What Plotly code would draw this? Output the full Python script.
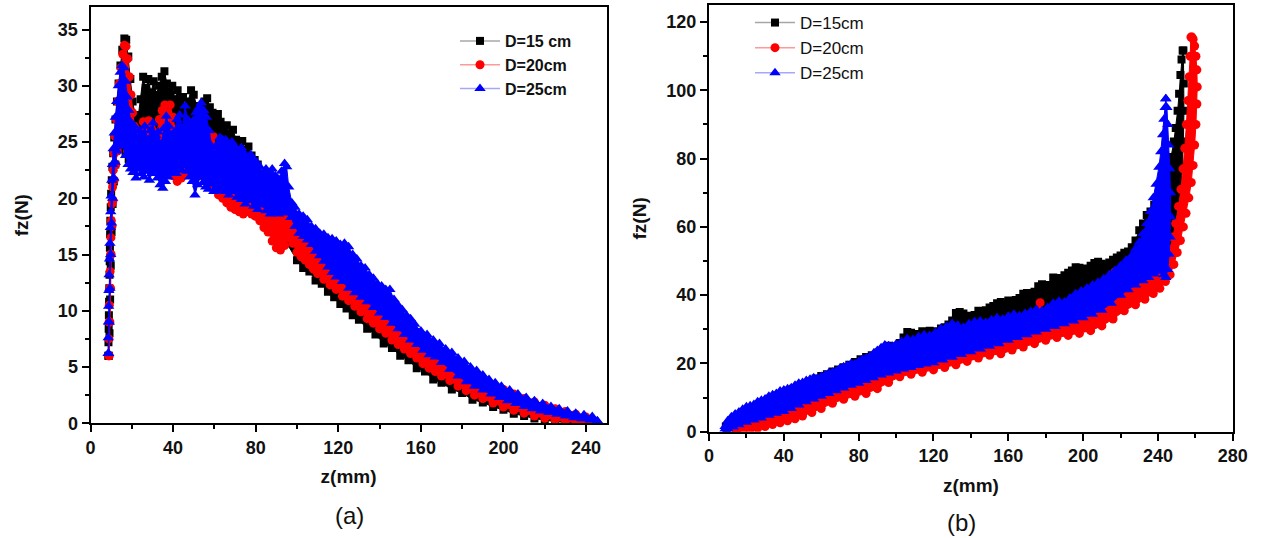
import plotly.graph_objects as go

# ---------------- Panel (a): fz vs z, band outlines ----------------
# D=15 cm
a15_up_z = [8.6, 8.7, 8.8, 8.9, 9.0, 9.1, 9.2, 9.3, 9.4, 9.5,
            9.6, 9.8, 10.0, 10.3, 10.6, 11.0, 11.5, 12.1, 12.8, 13.6,
            14.5, 15.4, 16.4, 17.3, 18.3, 19.3, 20.4, 21.6, 23.0, 24.3,
            25.5, 26.8, 28.0, 29.3, 30.6, 31.9, 33.2, 34.5, 35.8, 37.0,
            38.3, 39.6, 40.9, 42.2, 43.5, 44.8, 46.1, 47.4, 48.7, 50.0,
            51.3, 52.6, 53.9, 55.2, 56.5, 57.8, 59.1, 60.4, 61.7, 63.0,
            64.5, 66.0, 67.5, 69.0, 70.5, 72.0, 73.5, 75.0, 76.5, 78.0,
            79.5, 81.0, 84, 88, 92, 96, 100, 105, 110, 115,
            120, 125, 130, 135, 140, 145, 150, 155, 160, 165,
            170, 175, 180, 185, 190, 195, 200, 205, 210, 215,
            220, 225, 230, 235, 239]
a15_up_f = [6.0, 7.2, 8.4, 9.6, 10.8, 12.0, 13.2, 14.4, 15.6, 16.8,
            18.0, 19.2, 20.4, 21.6, 22.8, 24.0, 25.4, 27.0, 28.6, 30.2,
            31.8, 33.2, 34.2, 34.1, 32.6, 30.6, 28.6, 27.4, 27.1, 28.8,
            30.8, 29.8, 30.6, 29.4, 30.4, 29.2, 30.0, 30.8, 31.3, 30.2,
            29.4, 30.0, 28.8, 29.6, 28.4, 29.0, 27.8, 28.6, 29.6, 29.2,
            28.2, 27.4, 28.0, 28.6, 28.9, 28.1, 27.6, 27.0, 27.5, 26.8,
            26.2, 26.5, 25.7, 26.1, 25.2, 24.8, 25.1, 24.3, 24.6, 23.8,
            23.4, 23.0, 22.0, 20.6, 19.4, 18.2, 16.8, 15.8, 14.8, 13.9,
            12.9, 12.0, 11.1, 10.2, 9.5, 8.7, 8.0, 7.3, 6.5, 5.9,
            5.3, 4.7, 4.1, 3.6, 3.1, 2.7, 2.3, 1.95, 1.6, 1.3,
            1.0, 0.75, 0.55, 0.35, 0.2]
a15_lo_z = [8.9, 9.2, 9.5, 9.8, 10.2, 10.7, 11.3, 12.0, 13.0, 14.2,
            15.5, 17.0, 18.5, 20.0, 22, 26, 30, 35, 40, 45,
            50, 55, 60, 65, 70, 75, 80, 85, 90, 95,
            100, 103, 106, 109, 112, 115, 118, 121, 124, 127,
            130, 134, 138, 142, 146, 150, 154, 158, 162, 166,
            170, 175, 180, 185, 190, 195, 200, 205, 210, 215,
            220, 225, 230, 235, 239]
a15_lo_f = [6.0, 8.0, 11.0, 14.0, 17.0, 19.5, 21.5, 23.0, 24.5, 25.0,
            24.5, 24.0, 23.5, 23.0, 23.0, 23.0, 23.0, 23.0, 23.5, 23.0,
            23.0, 22.5, 21.5, 20.5, 19.5, 18.8, 18.5, 17.5, 16.5, 16.0,
            14.5, 13.8, 13.5, 12.7, 12.4, 11.7, 11.2, 10.6, 10.2, 9.6,
            9.2, 8.4, 7.9, 7.1, 6.7, 6.0, 5.6, 4.9, 4.6, 3.9,
            3.6, 3.0, 2.7, 2.1, 1.85, 1.45, 1.2, 0.85, 0.65, 0.42,
            0.3, 0.15, 0.08, 0.02, 0.0]

# D=20 cm
a20_up_z = [8.8, 8.9, 9.0, 9.1, 9.3, 9.5, 9.7, 9.9, 10.1, 10.4,
            10.7, 11.0, 11.4, 11.9, 12.5, 13.2, 14.0, 14.8, 15.6, 16.4,
            17.2, 18.0, 18.8, 19.6, 20.4, 21.2, 22.0, 23.0, 24.3, 25.6,
            26.9, 28.2, 29.5, 30.8, 32.1, 33.4, 34.7, 36.0, 37.3, 38.6,
            39.9, 41.2, 42.5, 43.8, 45.1, 46.4, 47.7, 49.0, 50.3, 51.6,
            52.9, 54.2, 55.5, 56.8, 58.1, 59.4, 60.7, 62.0, 64, 66,
            68, 70, 72, 74, 76, 78, 80, 82, 84, 86,
            88, 90, 92, 94, 96, 98, 100, 104, 108, 112,
            116, 120, 125, 130, 135, 140, 145, 150, 155, 160,
            165, 170, 175, 180, 185, 190, 195, 200, 205, 210,
            215, 220, 225, 230, 235, 240, 243]
a20_up_f = [6.0, 7.5, 9.0, 10.5, 12.0, 13.5, 15.0, 16.5, 18.0, 19.5,
            21.0, 22.5, 24.0, 25.5, 27.0, 28.6, 30.2, 31.6, 32.8, 33.6,
            33.5, 32.4, 30.8, 29.2, 27.6, 26.4, 25.6, 25.2, 25.6, 26.8,
            26.0, 26.9, 26.2, 25.4, 25.8, 27.0, 27.8, 28.3, 27.6, 28.3,
            27.2, 26.0, 25.2, 24.6, 24.0, 25.0, 24.2, 23.6, 24.4, 23.8,
            23.2, 24.0, 24.5, 25.0, 25.3, 25.5, 24.6, 24.0, 23.6, 23.2,
            22.9, 22.6, 22.0, 21.6, 21.0, 20.7, 20.2, 19.8, 19.4, 19.0,
            18.7, 18.5, 18.2, 18.3, 18.0, 17.8, 17.8, 17.0, 16.2, 15.6,
            14.9, 14.2, 13.2, 12.3, 11.4, 10.6, 9.8, 9.2, 8.4, 7.5,
            6.8, 6.0, 5.3, 4.6, 4.0, 3.5, 3.2, 3.0, 2.6, 2.2,
            1.9, 1.6, 1.3, 1.05, 0.8, 0.55, 0.35]
a20_lo_z = [9.1, 9.4, 9.7, 10.0, 10.4, 10.9, 11.5, 12.2, 13.0, 14.0,
            15.2, 16.5, 18.0, 19.5, 21.0, 23, 26, 30, 34, 38,
            40, 42, 44, 46, 48, 50, 52, 54, 56, 58,
            60, 62, 64, 66, 68, 70, 72, 74, 76, 78,
            80, 82, 84, 86, 88, 90, 92, 94, 96, 98,
            100, 102, 104, 106, 108, 110, 113, 116, 119, 122,
            125, 128, 131, 134, 137, 140, 143, 146, 149, 152,
            155, 158, 161, 164, 167, 170, 174, 178, 182, 186,
            190, 195, 200, 205, 210, 215, 220, 225, 230, 235,
            240, 243]
a20_lo_f = [6.0, 9.0, 12.0, 15.0, 17.5, 19.8, 21.6, 23.0, 24.2, 25.0,
            25.2, 24.8, 24.2, 23.8, 23.4, 23.0, 22.8, 22.8, 22.6, 22.4,
            22.0, 21.5, 21.8, 22.3, 22.5, 22.2, 22.6, 22.0, 21.5, 21.0,
            20.8, 20.3, 20.0, 19.6, 19.2, 19.0, 18.8, 18.6, 18.9, 18.6,
            18.4, 18.0, 17.4, 17.0, 16.2, 15.6, 15.4, 15.8, 16.5, 16.0,
            15.2, 14.8, 14.5, 14.1, 13.7, 13.3, 12.8, 12.3, 11.9, 11.3,
            10.9, 10.4, 9.9, 9.3, 8.9, 8.4, 8.0, 7.4, 7.0, 6.6,
            6.2, 5.8, 5.3, 4.9, 4.6, 4.2, 3.8, 3.3, 2.9, 2.5,
            2.2, 1.8, 1.45, 1.15, 0.9, 0.65, 0.45, 0.3, 0.18, 0.08,
            0.03, 0.02]

# D=25 cm
a25_up_z = [8.5, 8.6, 8.7, 8.8, 8.9, 9.0, 9.2, 9.4, 9.6, 9.8,
            10.0, 10.3, 10.6, 11.0, 11.5, 12.0, 12.7, 13.5, 14.4, 15.3,
            16.2, 17.0, 17.8, 18.6, 19.4, 20.3, 21.3, 22.5, 23.8, 25.0,
            26.3, 27.6, 28.9, 30.2, 31.5, 32.8, 34.1, 35.4, 36.7, 38.0,
            39.3, 40.6, 41.9, 43.2, 44.5, 45.8, 47.1, 48.4, 49.7, 51.0,
            52.3, 53.6, 54.9, 56.2, 57.5, 58.8, 60.1, 61.4, 62.7, 64.0,
            65.5, 67.0, 68.5, 70.0, 71.5, 73.0, 74.5, 76.0, 77.5, 79.0,
            80.5, 82.0, 83.5, 85.0, 86.5, 88.0, 89.5, 91.0, 92.5, 94.0,
            95.0, 96.0, 97.5, 99.0, 101, 103, 105, 107, 109, 111,
            113, 115, 117, 119, 121, 123, 125, 127, 129, 131,
            133, 135, 137, 139, 141, 143, 145, 147, 149, 151,
            153, 155, 157, 160, 163, 166, 169, 172, 175, 178,
            181, 184, 187, 190, 193, 196, 199, 203, 207, 211,
            215, 219, 223, 227, 231, 235, 239, 243, 245.5]
a25_up_f = [6.2, 7.6, 9.0, 10.4, 11.8, 13.2, 14.6, 16.0, 17.4, 18.8,
            20.2, 21.6, 23.0, 24.4, 25.8, 27.2, 28.6, 30.0, 31.2, 31.8,
            31.6, 30.4, 29.0, 27.8, 26.8, 26.2, 26.4, 25.4, 26.0, 25.6,
            26.4, 25.2, 26.0, 26.7, 25.6, 25.9, 24.8, 26.2, 27.3, 26.4,
            25.6, 25.9, 27.0, 27.4, 26.2, 28.2, 27.0, 26.4, 26.9, 27.6,
            28.0, 28.5, 27.8, 27.2, 26.0, 24.6, 24.0, 24.8, 25.4, 25.2,
            25.2, 24.8, 25.0, 24.6, 24.2, 24.5, 24.0, 23.6, 23.9, 23.5,
            23.2, 22.8, 22.3, 22.6, 22.1, 22.6, 22.0, 21.7, 22.4, 23.1,
            22.8, 21.0, 19.6, 19.2, 18.6, 18.4, 18.1, 17.5, 17.3, 16.9,
            16.8, 16.5, 16.4, 16.2, 15.9, 16.0, 15.7, 15.0, 14.6, 14.0,
            13.8, 13.2, 12.9, 12.4, 12.2, 11.9, 11.9, 11.0, 10.5, 10.1,
            9.6, 9.3, 8.8, 8.2, 7.9, 7.4, 7.1, 6.6, 6.3, 5.8,
            5.5, 5.0, 4.7, 4.3, 3.9, 3.6, 3.3, 2.95, 2.6, 2.3,
            2.0, 1.75, 1.5, 1.3, 1.1, 0.9, 0.75, 0.6, 0.2]
a25_lo_z = [8.8, 9.1, 9.4, 9.8, 10.2, 10.7, 11.3, 12.0, 12.8, 13.7,
            14.7, 15.8, 17.0, 18.2, 19.4, 20.6, 22.0, 23.3, 24.6, 25.9,
            27.2, 28.5, 29.8, 31.1, 32.4, 33.7, 35.0, 36.3, 37.6, 38.9,
            40.2, 41.5, 42.8, 44.1, 45.4, 46.7, 48.0, 49.3, 50.6, 51.9,
            53.2, 54.5, 55.8, 57.1, 58.4, 59.7, 61.0, 63, 65, 67,
            69, 71, 73, 75, 77, 79, 81, 83, 85, 87,
            89, 91, 93, 95, 97, 99, 101, 103, 105, 107,
            109, 111, 113, 115, 117, 119, 122, 125, 128, 131,
            134, 137, 140, 143, 146, 149, 152, 155, 158, 161,
            164, 167, 170, 174, 178, 182, 186, 190, 194, 198,
            202, 206, 210, 214, 218, 222, 226, 230, 234, 238,
            242, 245.5]
a25_lo_f = [6.2, 9.0, 12.0, 15.0, 17.8, 20.0, 21.8, 23.2, 24.2, 24.8,
            25.0, 24.6, 23.8, 23.0, 22.6, 22.3, 21.8, 22.6, 22.2, 21.9,
            22.4, 21.6, 22.2, 22.5, 21.8, 21.2, 20.9, 21.5, 21.9, 22.3,
            22.6, 22.2, 22.8, 22.5, 22.9, 22.4, 21.9, 21.5, 20.3, 21.2,
            21.9, 21.4, 21.0, 20.8, 21.3, 20.6, 20.7, 20.9, 20.6, 20.3,
            20.6, 20.1, 19.9, 19.5, 19.8, 19.3, 19.0, 19.4, 18.9, 18.6,
            18.8, 18.6, 18.9, 18.7, 18.3, 17.5, 16.9, 16.6, 16.3, 15.9,
            15.3, 14.9, 14.4, 13.9, 13.4, 13.0, 12.6, 12.0, 11.6, 11.2,
            10.8, 10.3, 9.8, 9.4, 8.9, 8.4, 7.9, 7.4, 7.0, 6.5,
            6.1, 5.9, 5.4, 4.8, 4.2, 3.7, 3.3, 2.95, 2.6, 2.3,
            2.0, 1.75, 1.5, 1.3, 1.1, 0.95, 0.8, 0.65, 0.5, 0.4,
            0.3, 0.2]

# ---------------- Panel (b) ----------------
# D=15cm
b15_up_z = [9.0, 12, 15, 18, 21, 24, 27, 30, 33, 36,
            39, 42, 45, 48, 51, 54, 57, 60, 63, 66,
            69, 72, 75, 78, 81, 84, 87, 90, 93, 96,
            99, 102, 104, 106, 108, 110, 112, 114, 116, 118,
            120, 122, 124, 126, 128, 130, 132, 134, 136, 138,
            140, 142, 144, 146, 148, 150, 152, 154, 156, 158,
            160, 162, 164, 166, 168, 170, 172, 174, 176, 178,
            180, 182, 184, 186, 188, 190, 192, 194, 196, 198,
            200, 202, 204, 206, 208, 210, 212, 214, 216, 218,
            220, 222, 224, 226, 228, 230, 232, 234, 236, 238,
            240, 242, 244, 245.5, 247, 248.5, 249.5, 250.5, 251.3, 252.0,
            252.6, 253.2]
b15_up_f = [1.5, 2.8, 4.0, 5.0, 6.0, 7.0, 8.0, 8.8, 9.8, 10.6,
            11.2, 12.0, 12.6, 13.4, 14.0, 14.8, 15.6, 16.3, 16.8, 17.6,
            18.2, 18.9, 19.6, 20.4, 21.2, 21.9, 22.4, 23.2, 24.1, 25.2,
            25.0, 26.0, 27.6, 29.2, 29.0, 28.4, 28.6, 29.4, 28.8, 29.6,
            28.9, 29.4, 30.2, 30.6, 31.4, 32.6, 34.8, 35.1, 34.6, 34.0,
            33.6, 34.2, 35.4, 35.2, 35.6, 36.4, 36.8, 37.6, 38.0, 37.4,
            38.4, 38.0, 38.6, 39.2, 40.4, 40.6, 40.0, 41.0, 42.6, 43.2,
            42.4, 43.0, 45.2, 45.0, 44.4, 45.8, 46.6, 47.2, 48.2, 48.0,
            46.8, 47.8, 48.6, 49.4, 49.8, 49.2, 48.6, 49.6, 50.4, 51.0,
            51.6, 52.4, 52.8, 54.0, 56.0, 59.0, 61.0, 63.5, 64.5, 66.5,
            68.8, 71.0, 74.0, 77.5, 80.5, 85.0, 89.0, 94.0, 99.0, 104.5,
            109.0, 111.7]
b15_lo_z = [9.5, 14, 20, 26, 32, 38, 44, 50, 56, 62,
            68, 74, 80, 86, 92, 98, 104, 110, 116, 122,
            128, 134, 140, 146, 152, 158, 164, 170, 176, 182,
            188, 194, 200, 206, 212, 218, 224, 230, 236, 240,
            244, 247, 249.5, 251.2, 252.4, 253.1, 253.6, 253.9, 253.8, 253.6]
b15_lo_f = [0.6, 1.2, 2.6, 4.2, 5.6, 7.0, 8.4, 9.6, 11.0, 12.2,
            13.4, 14.6, 15.6, 16.8, 17.8, 19.0, 20.2, 21.2, 22.0, 22.8,
            23.6, 24.4, 25.2, 26.0, 26.8, 27.6, 28.4, 29.4, 30.4, 31.4,
            32.4, 33.6, 34.8, 36.0, 37.4, 38.8, 40.4, 42.0, 44.0, 46.0,
            50.0, 55.0, 60.0, 66.0, 72.0, 78.0, 85.0, 94.0, 102.0, 111.7]

# D=20cm
b20_up_z = [14.8, 18, 22, 26, 30, 34, 38, 42, 46, 50,
            54, 58, 62, 66, 70, 74, 78, 82, 86, 90,
            94, 98, 102, 106, 110, 114, 118, 122, 126, 130,
            134, 138, 142, 146, 150, 154, 158, 162, 166, 170,
            173, 175, 177, 179, 182, 186, 190, 194, 198, 202,
            206, 210, 213, 215, 217, 219, 222, 226, 230, 233,
            235, 237, 239, 241, 243, 245, 246.5, 248, 249.5, 251,
            252.3, 253.4, 254.3, 255.2, 256, 256.7, 257.2, 257.6]
b20_up_f = [0.6, 1.6, 2.6, 3.6, 4.6, 5.6, 6.6, 7.4, 8.4, 9.3,
            9.8, 10.4, 10.8, 11.2, 12.0, 13.0, 14.0, 14.6, 15.3, 16.4,
            17.4, 18.6, 20.0, 19.4, 19.6, 20.3, 19.8, 20.2, 21.2, 22.0,
            22.4, 22.9, 23.8, 24.6, 25.2, 25.8, 26.4, 27.0, 27.6, 28.4,
            31.0, 35.0, 37.8, 34.0, 30.6, 31.2, 31.8, 32.4, 33.2, 34.0,
            35.0, 36.2, 40.0, 44.0, 46.8, 42.0, 41.0, 42.5, 44.0, 46.5,
            49.0, 50.6, 49.0, 48.0, 48.5, 51.0, 53.5, 57.0, 61.0, 66.0,
            71.0, 77.0, 83.0, 90.0, 97.0, 104.0, 110.0, 115.6]
b20_lo_z = [14.8, 18, 22, 26, 30, 34, 38, 42, 46, 50,
            55, 60, 66, 72, 78, 84, 90, 96, 102, 108,
            114, 120, 126, 132, 138, 144, 150, 156, 162, 168,
            174, 180, 186, 192, 198, 204, 210, 216, 222, 228,
            233, 237.5, 241, 244, 246.5, 248.5, 250.3, 252, 253.6, 255,
            256.5, 257.8, 258.8, 259.6, 260.3, 260.8, 261.0, 260.8, 260.3, 259.6,
            258.8, 258.2]
b20_lo_f = [0.2, 0.4, 0.6, 1.0, 1.5, 2.1, 2.6, 3.2, 3.8, 4.6,
            5.6, 6.8, 8.3, 9.5, 10.4, 11.2, 12.6, 14.4, 16.1, 16.8,
            17.4, 18.1, 18.8, 19.6, 20.6, 21.6, 22.4, 22.8, 23.9, 24.8,
            25.8, 26.8, 27.6, 28.2, 28.8, 29.6, 31.0, 33.0, 35.4, 37.2,
            38.8, 40.5, 42.0, 44.0, 46.0, 49.0, 52.5, 56.0, 60.0, 64.0,
            68.5, 73.0, 78.0, 84.0, 90.0, 96.0, 101.0, 106.0, 110.0, 113.0,
            115.0, 115.6]

# D=25cm
b25_up_z = [8.6, 10, 12, 14, 16, 18, 20, 22, 24, 26,
            28, 30, 32, 34, 36, 38, 40, 42, 44, 46,
            48, 50, 52, 54, 56, 58, 60, 62, 64, 66,
            68, 70, 72, 74, 76, 78, 80, 82, 84, 86,
            88, 90, 92, 94, 96, 98, 100, 103, 106, 109,
            112, 115, 118, 121, 124, 127, 130, 133, 136, 139,
            142, 145, 148, 151, 154, 157, 160, 163, 166, 169,
            172, 175, 178, 181, 184, 187, 190, 193, 196, 199,
            202, 205, 208, 211, 214, 217, 220, 223, 226, 228,
            230, 232, 234, 236, 237.5, 239, 240.5, 241.5, 242.5, 243.2,
            243.8, 244.2]
b25_up_f = [1.5, 3.2, 4.4, 5.2, 5.8, 6.6, 7.3, 7.6, 8.0, 8.8,
            9.2, 9.6, 10.4, 10.8, 11.2, 11.9, 12.2, 12.6, 12.9, 13.6,
            14.2, 14.4, 15.0, 15.4, 15.8, 15.6, 16.2, 16.6, 17.2, 17.4,
            17.8, 18.6, 19.0, 19.4, 20.0, 19.8, 20.6, 21.2, 21.6, 22.0,
            23.0, 23.8, 24.6, 25.4, 25.2, 25.0, 25.6, 26.4, 27.2, 27.0,
            27.8, 28.4, 28.2, 29.0, 30.2, 30.8, 31.7, 31.2, 30.6, 31.6,
            32.2, 32.4, 32.0, 32.8, 33.4, 33.0, 33.8, 34.4, 34.0, 34.6,
            35.2, 35.8, 35.4, 36.4, 37.6, 38.2, 38.0, 39.2, 40.4, 41.2,
            42.0, 43.0, 43.8, 44.8, 46.0, 47.2, 48.6, 50.2, 51.6, 53.5,
            55.5, 58.0, 61.0, 64.5, 68.5, 72.5, 77.5, 82.0, 87.0, 91.5,
            95.0, 97.5]
b25_lo_z = [8.6, 10, 13, 16, 20, 24, 28, 32, 36, 40,
            44, 48, 52, 56, 60, 64, 68, 72, 76, 80,
            84, 88, 92, 96, 100, 104, 108, 112, 116, 120,
            125, 130, 135, 140, 145, 150, 155, 160, 165, 170,
            175, 180, 185, 190, 195, 200, 205, 210, 215, 220,
            224, 228, 232, 235, 238, 240, 242, 243.2, 244.2, 245.2,
            246, 246.5, 246.8, 246.7, 246.3, 245.8, 245.3, 244.8, 244.2]
b25_lo_f = [0.8, 0.8, 1.4, 2.0, 2.8, 3.4, 4.0, 4.8, 5.4, 5.9,
            6.8, 7.8, 8.8, 9.6, 10.4, 11.2, 12.0, 12.8, 13.6, 14.2,
            15.0, 15.8, 16.6, 17.2, 17.8, 18.4, 18.8, 19.4, 19.8, 20.2,
            21.0, 21.8, 22.6, 23.4, 24.2, 25.0, 25.8, 26.8, 27.6, 28.4,
            29.2, 30.0, 30.8, 31.6, 32.4, 33.4, 34.4, 35.6, 37.6, 40.0,
            41.6, 43.0, 44.2, 45.2, 46.2, 47.0, 47.6, 46.0, 45.2, 47.5,
            52.0, 57.0, 63.0, 70.0, 77.0, 84.0, 90.0, 95.0, 97.5]

names_a = ["D=15 cm", "D=20cm", "D=25cm"]
names_b = ["D=15cm", "D=20cm", "D=25cm"]
colors = ["#000000", "#ff0000", "#0000ff"]
line_colors = ["rgba(0,0,0,0.35)", "rgba(255,0,0,0.40)", "rgba(0,0,255,0.35)"]
symbols = ["square", "circle", "triangle-up"]
msizes = [8, 9, 10]

series_a = [(a15_up_z, a15_up_f, a15_lo_z, a15_lo_f),
            (a20_up_z, a20_up_f, a20_lo_z, a20_lo_f),
            (a25_up_z, a25_up_f, a25_lo_z, a25_lo_f)]
series_b = [(b15_up_z, b15_up_f, b15_lo_z, b15_lo_f),
            (b20_up_z, b20_up_f, b20_lo_z, b20_lo_f),
            (b25_up_z, b25_up_f, b25_lo_z, b25_lo_f)]


def outline(uz, uf, lz, lf):
    n1 = min(len(uz), len(uf))
    n2 = min(len(lz), len(lf))
    xs = list(uz[:n1]) + list(lz[:n2])[::-1]
    ys = list(uf[:n1]) + list(lf[:n2])[::-1]
    return xs, ys


FONT = "Liberation Sans, Arial, sans-serif"
fig = go.Figure()

for panel, series, names, xa, ya, lg in [("a", series_a, names_a, "x", "y", "legend"),
                                          ("b", series_b, names_b, "x2", "y2", "legend2")]:
    for i, s in enumerate(series):
        xs, ys = outline(*s)
        fig.add_trace(go.Scatter(
            x=xs, y=ys, mode="lines+markers", fill="toself",
            fillcolor=colors[i], line=dict(color=colors[i], width=1),
            marker=dict(symbol=symbols[i], size=msizes[i], color=colors[i]),
            xaxis=xa, yaxis=ya, showlegend=False, hoverinfo="skip"))
    for i in range(3):
        fig.add_trace(go.Scatter(
            x=[None], y=[None], mode="lines+markers", name=names[i],
            line=dict(color=line_colors[i], width=1.5),
            marker=dict(symbol=symbols[i], size=msizes[i], color=colors[i]),
            xaxis=xa, yaxis=ya, legend=lg, showlegend=True))

W, H = 1267, 538
tickfont = dict(family=FONT, size=18, color="#111", weight="bold")
titlefont = dict(family=FONT, size=19, color="#111", weight="bold")
common = dict(showline=True, linewidth=2, linecolor="black", mirror=True,
              ticks="outside", ticklen=7, tickwidth=2, tickcolor="black",
              showgrid=False, zeroline=False, tickfont=tickfont, automargin=False)

fig.update_layout(
    width=W, height=H,
    margin=dict(l=0, r=0, t=0, b=0),
    paper_bgcolor="white", plot_bgcolor="white",
    xaxis=dict(domain=[90.5 / W, 606.7 / W], range=[0, 250], dtick=40, tick0=0,
               minor=dict(dtick=20, ticklen=4, tickwidth=2, ticks="outside", tickcolor="black"),
               title=dict(text="z(mm)", font=titlefont, standoff=13), anchor="y", **common),
    yaxis=dict(domain=[1 - 423.3 / H, 1 - 7 / H], range=[0, 37], dtick=5, tick0=0,
               minor=dict(dtick=2.5, ticklen=4, tickwidth=2, ticks="outside", tickcolor="black"),
               title=dict(text="fz(N)", font=titlefont, standoff=24), anchor="x", **common),
    xaxis2=dict(domain=[709 / W, 1232.8 / W], range=[0, 280], dtick=40, tick0=0,
                minor=dict(dtick=20, ticklen=4, tickwidth=2, ticks="outside", tickcolor="black"),
                title=dict(text="z(mm)", font=titlefont, standoff=13), anchor="y2", **common),
    yaxis2=dict(domain=[1 - 431.7 / H, 1 - 5 / H], range=[0, 125], dtick=20, tick0=0,
                minor=dict(dtick=10, ticklen=4, tickwidth=2, ticks="outside", tickcolor="black"),
                title=dict(text="fz(N)", font=titlefont, standoff=15), anchor="x2", **common),
    legend=dict(x=455 / W, y=1 - 24 / H, xanchor="left", yanchor="top",
                bgcolor="rgba(0,0,0,0)", borderwidth=0, itemwidth=40, tracegroupgap=0,
                font=dict(family=FONT, size=16, color="#111", weight="bold")),
    legend2=dict(x=750 / W, y=1 - 5 / H, xanchor="left", yanchor="top",
                 bgcolor="rgba(0,0,0,0)", borderwidth=0, itemwidth=40, tracegroupgap=0,
                 font=dict(family=FONT, size=17, color="#111")),
    annotations=[
        dict(text="(a)", x=349 / W, y=1 - 515 / H, xref="paper", yref="paper",
             xanchor="center", yanchor="middle",
             showarrow=False, font=dict(family=FONT, size=24, color="#111")),
        dict(text="(b)", x=961 / W, y=1 - 522 / H, xref="paper", yref="paper",
             xanchor="center", yanchor="middle",
             showarrow=False, font=dict(family=FONT, size=24, color="#111")),
    ],
)

# remove the default 8px page margin so the figure fills the window exactly
fig.write_html("out.html", config={"displayModeBar": False},
               post_script="document.body.style.margin='0px';")
